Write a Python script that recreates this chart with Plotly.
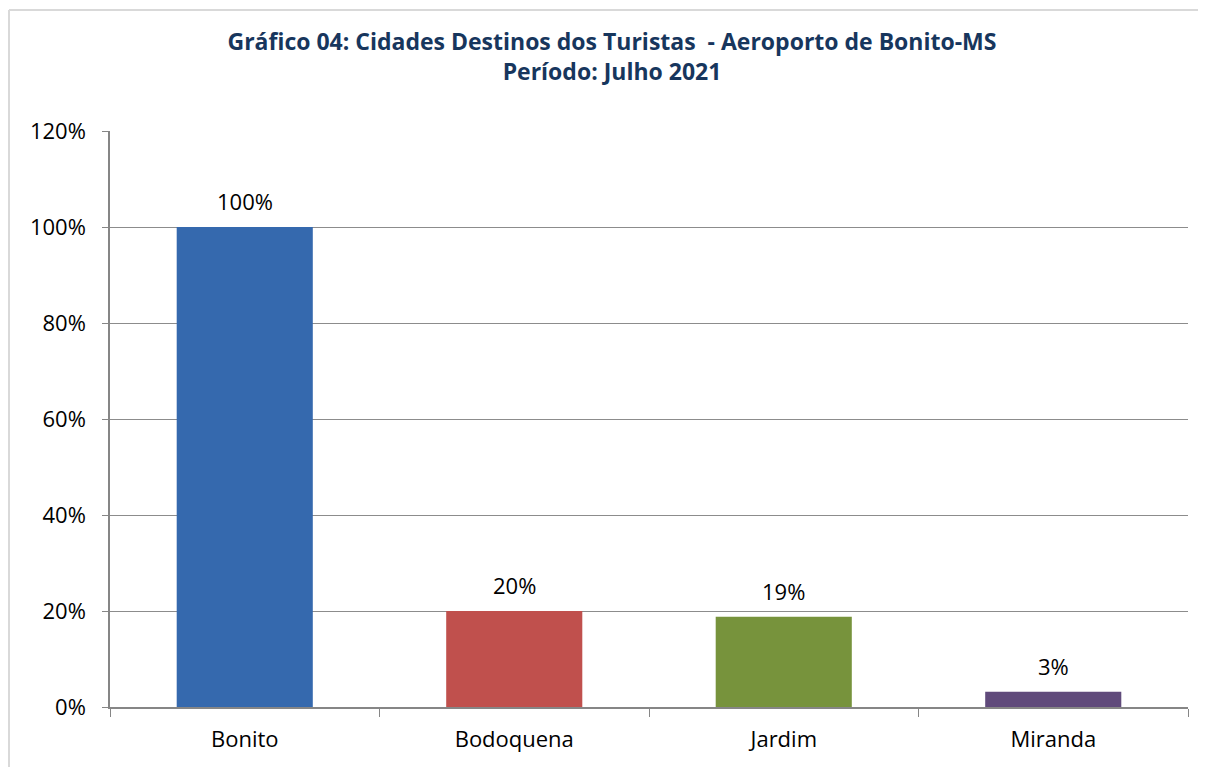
import plotly.graph_objects as go

categories = ["Bonito", "Bodoquena", "Jardim", "Miranda"]
values = [100, 20, 18.8, 3.2]
labels = ["100%", "20%", "19%", "3%"]
colors = ["#3569AE", "#C0504D", "#77933C", "#604A7B"]
y_ticks = [0, 20, 40, 60, 80, 100, 120]
y_tick_labels = ["0%", "20%", "40%", "60%", "80%", "100%", "120%"]

W, H = 1206, 767
OFF = 8  # page body offset
ml, mt = 110 - OFF, 131 - OFF
mr = W - (1188 - OFF)
mb = H - (707 - OFF)
pw, ph = W - ml - mr, H - mt - mb

font = "Open Sans, Liberation Sans, sans-serif"

fig = go.Figure()
fig.add_trace(go.Bar(
    x=categories, y=values,
    marker=dict(color=colors, line=dict(width=0)),
    showlegend=False,
))

for c, v, t in zip(categories, values, labels):
    fig.add_annotation(
        x=c, y=v, text=t, showarrow=False, yanchor="bottom", yshift=9,
        font=dict(size=22, color="#000000", family=font),
    )

fig.update_layout(
    width=W, height=H,
    margin=dict(l=ml, r=mr, t=mt, b=mb),
    paper_bgcolor="white", plot_bgcolor="white",
    bargap=0.495,
    title=dict(
        text="Gráfico 04: Cidades Destinos dos Turistas  - Aeroporto de Bonito-MS<br>Período: Julho 2021",
        x=(612 - OFF) / W, xanchor="center", y=1 - (50 - OFF) / H, yanchor="middle",
        font=dict(size=23, color="#17365D", family=font, weight="bold"),
    ),
    xaxis=dict(
        showline=True, linecolor="#868686", linewidth=1.5,
        ticks="outside", tickson="boundaries", ticklen=8, tickcolor="#868686",
        tickfont=dict(size=22, color="#000000", family=font),
        ticklabelstandoff=12,
        showgrid=False,
    ),
    yaxis=dict(
        range=[0, 120], tickvals=y_ticks, ticktext=y_tick_labels,
        showline=True, linecolor="#868686", linewidth=1.5,
        ticks="outside", ticklen=6, tickcolor="#868686",
        tickfont=dict(size=22, color="#000000", family=font),
        ticklabelstandoff=12,
        showgrid=True, gridcolor="#8C8C8C", gridwidth=1.2,
        zeroline=False,
    ),
)

# chart outer border (top and left edges visible)
def px_x(x):
    return (x - OFF - ml) / pw

def px_y(y):
    return (H - mb - (y - OFF)) / ph

border = dict(color="#D9D9D9", width=2)
fig.add_shape(type="line", xref="paper", yref="paper",
              x0=px_x(9), x1=px_x(1206), y0=px_y(10), y1=px_y(10), line=border, layer="below")
fig.add_shape(type="line", xref="paper", yref="paper",
              x0=px_x(9), x1=px_x(9), y0=px_y(10), y1=px_y(767), line=border, layer="below")

fig.write_html("out.html")
